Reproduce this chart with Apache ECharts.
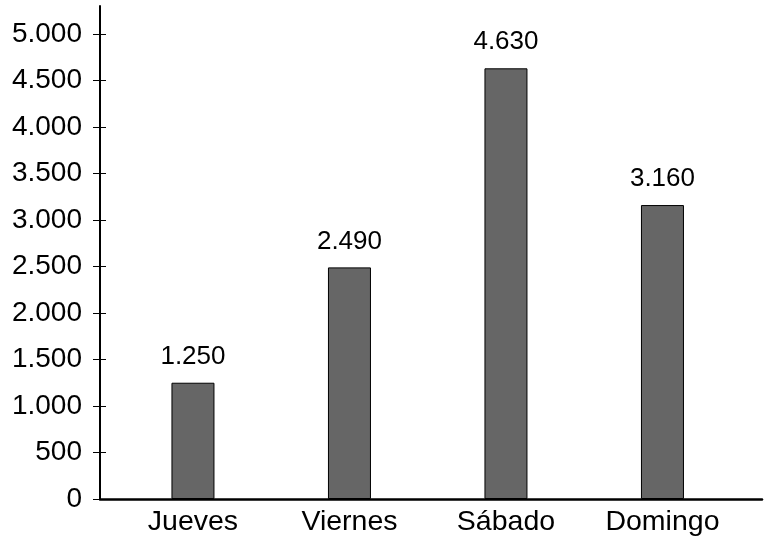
<!DOCTYPE html>
<html>
<head>
<meta charset="utf-8">
<script src="https://cdn.jsdelivr.net/npm/echarts@6/dist/echarts.min.js"></script>
<style>html,body{margin:0;padding:0;background:#fff;}#c{width:764px;height:539px;}</style>
</head>
<body>
<div id="c"></div>
<script>
const categories = ['Jueves', 'Viernes', 'Sábado', 'Domingo'];
const values = [1250, 2490, 4630, 3160];
const yTicks = [0, 500, 1000, 1500, 2000, 2500, 3000, 3500, 4000, 4500, 5000];

function fmt(v) {
  return String(Math.round(v)).replace(/\B(?=(\d{3})+(?!\d))/g, '.');
}
const FONT = 'Liberation Sans, Arial, sans-serif';
const chart = echarts.init(document.getElementById('c'));
chart.setOption({
  animation: false,
  grid: { left: 100, right: 2, top: 6, bottom: 40 },
  xAxis: {
    type: 'value', min: -0.594, max: 3.636,
    splitLine: { show: false },
    axisLine: { show: true, lineStyle: { color: '#000', width: 2.5 } },
    axisTick: { show: false },
    axisLabel: {
      customValues: [0, 1, 2, 3],
      formatter: v => categories[Math.round(v)],
      color: '#000', fontSize: 28.5, fontFamily: FONT, margin: 9
    }
  },
  yAxis: [{
    type: 'value', min: 0, max: 5300,
    splitLine: { show: false },
    axisLine: { show: true, onZero: false, lineStyle: { color: '#000', width: 2 } },
    axisTick: { show: true, customValues: yTicks, length: 7, lineStyle: { color: '#000', width: 1 } },
    axisLabel: { customValues: yTicks, formatter: fmt, color: '#000', fontSize: 28, fontFamily: FONT, margin: 18 }
  }, {
    type: 'value', min: 0, max: 5300, position: 'left',
    splitLine: { show: false },
    axisLine: { show: false, onZero: false },
    axisTick: { show: true, inside: true, customValues: yTicks, length: 6, lineStyle: { color: '#000', width: 1 } },
    axisLabel: { show: false }
  }],
  series: [{
    type: 'bar',
    yAxisIndex: 0,
    barWidth: 43,
    data: values.map((v, i) => [i, v]),
    itemStyle: { color: '#666666', borderColor: '#000', borderWidth: 1 },
    label: {
      show: true, position: 'top', distance: 13,
      formatter: p => fmt(p.value[1]),
      color: '#000', fontSize: 26, fontFamily: FONT
    }
  }]
});
</script>
</body>
</html>
